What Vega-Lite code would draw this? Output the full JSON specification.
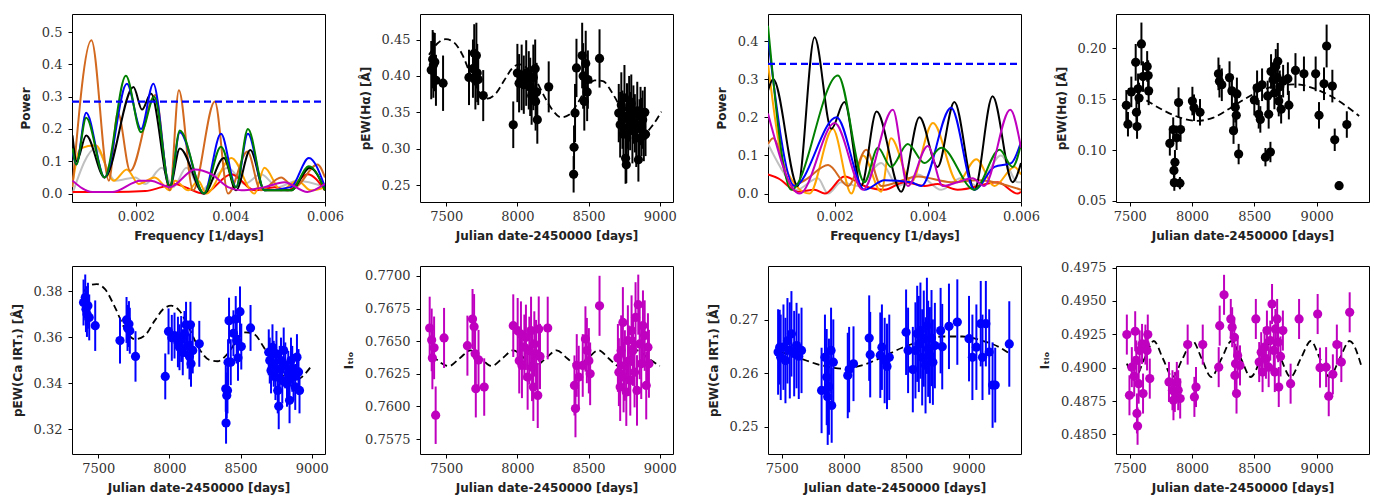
{
"$schema": "https://vega.github.io/schema/vega-lite/v6.json",
"background": "white",
"padding": {"left": 10, "top": 13, "right": 3, "bottom": 3},
"columns": 4,
"spacing": {"row": 64, "column": 95},
"bounds": "flush",
"resolve": {"scale": {"x": "independent", "y": "independent"}},
"config": {
  "view": {"stroke": "#000", "strokeWidth": 1},
  "axis": {"domain": false, "grid": false, "tickColor": "#000", "tickSize": 4, "tickWidth": 1, "labelFont": "DejaVu Serif", "labelFontSize": 13, "labelColor": "#333", "labelFlush": false, "labelOverlap": false, "labelBound": false, "titleFont": "DejaVu Sans", "titleFontSize": 12, "titleFontWeight": "bold", "titleColor": "#222"},
  "axisX": {"labelPadding": 4, "titlePadding": 7},
  "axisY": {"labelPadding": 6, "titlePadding": 9}
},
"datasets": {
"fap1": [{"f":0.00065,"v":0.285},{"f":0.006,"v":0.285}],
"fap3": [{"f":0.00057,"v":0.34},{"f":0.006,"v":0.34}],
"pg1": [
{"s":"silver","f":0.00066,"v":0.0},{"s":"silver","f":0.00115,"v":0.14},{"s":"silver","f":0.00157,"v":0.04},{"s":"silver","f":0.00199,"v":0.05},{"s":"silver","f":0.0022,"v":0.03},{"s":"silver","f":0.00255,"v":0.08},{"s":"silver","f":0.00279,"v":0.02},{"s":"silver","f":0.00307,"v":0.08},{"s":"silver","f":0.00339,"v":0.01},{"s":"silver","f":0.0036,"v":0.04},{"s":"silver","f":0.00395,"v":0.08},{"s":"silver","f":0.0043,"v":0.03},{"s":"silver","f":0.00465,"v":0.06},{"s":"silver","f":0.005,"v":0.02},{"s":"silver","f":0.00542,"v":0.04},{"s":"silver","f":0.006,"v":0.02},
{"s":"red","f":0.00066,"v":0.005},{"s":"red","f":0.0015,"v":0.005},{"s":"red","f":0.0022,"v":0.008},{"s":"red","f":0.00255,"v":0.02},{"s":"red","f":0.00283,"v":0.03},{"s":"red","f":0.00304,"v":0.02},{"s":"red","f":0.00344,"v":0.0},{"s":"red","f":0.00402,"v":0.06},{"s":"red","f":0.00451,"v":0.01},{"s":"red","f":0.00493,"v":0.02},{"s":"red","f":0.00521,"v":0.01},{"s":"red","f":0.00563,"v":0.06},{"s":"red","f":0.006,"v":0.01},
{"s":"orange","f":0.00066,"v":0.03},{"s":"orange","f":0.00083,"v":0.14},{"s":"orange","f":0.00115,"v":0.15},{"s":"orange","f":0.00153,"v":0.04},{"s":"orange","f":0.00181,"v":0.075},{"s":"orange","f":0.00206,"v":0.03},{"s":"orange","f":0.0024,"v":0.05},{"s":"orange","f":0.00272,"v":0.01},{"s":"orange","f":0.00283,"v":0.04},{"s":"orange","f":0.00311,"v":0.01},{"s":"orange","f":0.00332,"v":0.04},{"s":"orange","f":0.00349,"v":0.0},{"s":"orange","f":0.00402,"v":0.11},{"s":"orange","f":0.00451,"v":0.0},{"s":"orange","f":0.00472,"v":0.08},{"s":"orange","f":0.00507,"v":0.01},{"s":"orange","f":0.00542,"v":0.04},{"s":"orange","f":0.0057,"v":0.01},{"s":"orange","f":0.006,"v":0.02},
{"s":"chocolate","f":0.00066,"v":0.02},{"s":"chocolate","f":0.00106,"v":0.475},{"s":"chocolate","f":0.00143,"v":0.04},{"s":"chocolate","f":0.00162,"v":0.25},{"s":"chocolate","f":0.00188,"v":0.07},{"s":"chocolate","f":0.00241,"v":0.305},{"s":"chocolate","f":0.00272,"v":0.01},{"s":"chocolate","f":0.00291,"v":0.32},{"s":"chocolate","f":0.00321,"v":0.01},{"s":"chocolate","f":0.00367,"v":0.285},{"s":"chocolate","f":0.00395,"v":0.0},{"s":"chocolate","f":0.00436,"v":0.13},{"s":"chocolate","f":0.00464,"v":0.01},{"s":"chocolate","f":0.00507,"v":0.05},{"s":"chocolate","f":0.00535,"v":0.02},{"s":"chocolate","f":0.00584,"v":0.09},{"s":"chocolate","f":0.006,"v":0.05},
{"s":"black","f":0.00066,"v":0.18},{"s":"black","f":0.00075,"v":0.1},{"s":"black","f":0.00095,"v":0.18},{"s":"black","f":0.00134,"v":0.05},{"s":"black","f":0.00195,"v":0.33},{"s":"black","f":0.00213,"v":0.26},{"s":"black","f":0.00232,"v":0.31},{"s":"black","f":0.00272,"v":0.02},{"s":"black","f":0.00293,"v":0.14},{"s":"black","f":0.00344,"v":0.0},{"s":"black","f":0.00386,"v":0.11},{"s":"black","f":0.00412,"v":0.01},{"s":"black","f":0.00442,"v":0.135},{"s":"black","f":0.00472,"v":0.01},{"s":"black","f":0.00528,"v":0.01},{"s":"black","f":0.00568,"v":0.08},{"s":"black","f":0.006,"v":0.01},
{"s":"blue","f":0.00066,"v":0.13},{"s":"blue","f":0.00074,"v":0.09},{"s":"blue","f":0.00095,"v":0.25},{"s":"blue","f":0.00134,"v":0.05},{"s":"blue","f":0.00181,"v":0.34},{"s":"blue","f":0.00211,"v":0.2},{"s":"blue","f":0.00237,"v":0.34},{"s":"blue","f":0.00272,"v":0.02},{"s":"blue","f":0.00293,"v":0.19},{"s":"blue","f":0.00344,"v":0.0},{"s":"blue","f":0.0038,"v":0.185},{"s":"blue","f":0.00412,"v":0.02},{"s":"blue","f":0.00437,"v":0.185},{"s":"blue","f":0.00472,"v":0.01},{"s":"blue","f":0.00528,"v":0.02},{"s":"blue","f":0.00566,"v":0.11},{"s":"blue","f":0.006,"v":0.02},
{"s":"green","f":0.00066,"v":0.14},{"s":"green","f":0.00074,"v":0.09},{"s":"green","f":0.00095,"v":0.235},{"s":"green","f":0.00134,"v":0.05},{"s":"green","f":0.00179,"v":0.365},{"s":"green","f":0.00211,"v":0.19},{"s":"green","f":0.00239,"v":0.3},{"s":"green","f":0.00272,"v":0.02},{"s":"green","f":0.00293,"v":0.195},{"s":"green","f":0.00344,"v":0.0},{"s":"green","f":0.0038,"v":0.145},{"s":"green","f":0.00412,"v":0.02},{"s":"green","f":0.00437,"v":0.2},{"s":"green","f":0.00472,"v":0.01},{"s":"green","f":0.00528,"v":0.01},{"s":"green","f":0.00566,"v":0.085},{"s":"green","f":0.006,"v":0.01},
{"s":"magenta","f":0.00066,"v":0.04},{"s":"magenta","f":0.00108,"v":0.005},{"s":"magenta","f":0.0015,"v":0.005},{"s":"magenta","f":0.0021,"v":0.04},{"s":"magenta","f":0.00231,"v":0.04},{"s":"magenta","f":0.00272,"v":0.02},{"s":"magenta","f":0.00325,"v":0.075},{"s":"magenta","f":0.0036,"v":0.06},{"s":"magenta","f":0.00395,"v":0.02},{"s":"magenta","f":0.00423,"v":0.01},{"s":"magenta","f":0.00472,"v":0.02},{"s":"magenta","f":0.00514,"v":0.035},{"s":"magenta","f":0.00563,"v":0.005},{"s":"magenta","f":0.006,"v":0.03}
],
"pg3": [
{"s":"silver","f":0.00057,"v":0.13},{"s":"silver","f":0.00093,"v":0.05},{"s":"silver","f":0.00118,"v":0.01},{"s":"silver","f":0.00164,"v":0.04},{"s":"silver","f":0.00186,"v":0.0},{"s":"silver","f":0.00214,"v":0.03},{"s":"silver","f":0.0025,"v":0.02},{"s":"silver","f":0.003,"v":0.08},{"s":"silver","f":0.00336,"v":0.02},{"s":"silver","f":0.00379,"v":0.05},{"s":"silver","f":0.00429,"v":0.01},{"s":"silver","f":0.00471,"v":0.04},{"s":"silver","f":0.00507,"v":0.02},{"s":"silver","f":0.00557,"v":0.1},{"s":"silver","f":0.00593,"v":0.03},{"s":"silver","f":0.006,"v":0.03},
{"s":"red","f":0.00057,"v":0.05},{"s":"red","f":0.00079,"v":0.04},{"s":"red","f":0.00121,"v":0.005},{"s":"red","f":0.00157,"v":0.01},{"s":"red","f":0.00179,"v":0.0},{"s":"red","f":0.00221,"v":0.045},{"s":"red","f":0.00264,"v":0.02},{"s":"red","f":0.00307,"v":0.01},{"s":"red","f":0.0035,"v":0.03},{"s":"red","f":0.00393,"v":0.02},{"s":"red","f":0.00421,"v":0.025},{"s":"red","f":0.00464,"v":0.01},{"s":"red","f":0.0055,"v":0.03},{"s":"red","f":0.00593,"v":0.0},{"s":"red","f":0.006,"v":0.005},
{"s":"orange","f":0.00057,"v":0.34},{"s":"orange","f":0.00093,"v":0.07},{"s":"orange","f":0.00146,"v":0.0},{"s":"orange","f":0.00196,"v":0.17},{"s":"orange","f":0.00236,"v":0.0},{"s":"orange","f":0.00261,"v":0.1},{"s":"orange","f":0.003,"v":0.005},{"s":"orange","f":0.00321,"v":0.145},{"s":"orange","f":0.00364,"v":0.03},{"s":"orange","f":0.00411,"v":0.185},{"s":"orange","f":0.00464,"v":0.03},{"s":"orange","f":0.00504,"v":0.09},{"s":"orange","f":0.00543,"v":0.02},{"s":"orange","f":0.00586,"v":0.07},{"s":"orange","f":0.006,"v":0.05},
{"s":"chocolate","f":0.00057,"v":0.13},{"s":"chocolate","f":0.00068,"v":0.145},{"s":"chocolate","f":0.00107,"v":0.02},{"s":"chocolate","f":0.00136,"v":0.035},{"s":"chocolate","f":0.00186,"v":0.075},{"s":"chocolate","f":0.00229,"v":0.02},{"s":"chocolate","f":0.00268,"v":0.115},{"s":"chocolate","f":0.003,"v":0.02},{"s":"chocolate","f":0.00379,"v":0.045},{"s":"chocolate","f":0.0045,"v":0.03},{"s":"chocolate","f":0.00507,"v":0.035},{"s":"chocolate","f":0.006,"v":0.01},
{"s":"black","f":0.00057,"v":0.27},{"s":"black","f":0.00068,"v":0.3},{"s":"black","f":0.00121,"v":0.02},{"s":"black","f":0.00157,"v":0.41},{"s":"black","f":0.00193,"v":0.17},{"s":"black","f":0.00221,"v":0.24},{"s":"black","f":0.00257,"v":0.02},{"s":"black","f":0.0029,"v":0.215},{"s":"black","f":0.00343,"v":0.005},{"s":"black","f":0.00382,"v":0.2},{"s":"black","f":0.00421,"v":0.07},{"s":"black","f":0.00457,"v":0.24},{"s":"black","f":0.005,"v":0.01},{"s":"black","f":0.00539,"v":0.255},{"s":"black","f":0.00582,"v":0.03},{"s":"black","f":0.006,"v":0.08},
{"s":"blue","f":0.00057,"v":0.41},{"s":"blue","f":0.00114,"v":0.02},{"s":"blue","f":0.00204,"v":0.2},{"s":"blue","f":0.00264,"v":0.01},{"s":"blue","f":0.00307,"v":0.035},{"s":"blue","f":0.00364,"v":0.03},{"s":"blue","f":0.00386,"v":0.02},{"s":"blue","f":0.0045,"v":0.225},{"s":"blue","f":0.005,"v":0.01},{"s":"blue","f":0.00543,"v":0.07},{"s":"blue","f":0.00579,"v":0.08},{"s":"blue","f":0.006,"v":0.135},
{"s":"green","f":0.00057,"v":0.44},{"s":"green","f":0.00107,"v":0.01},{"s":"green","f":0.00207,"v":0.31},{"s":"green","f":0.00264,"v":0.03},{"s":"green","f":0.00293,"v":0.12},{"s":"green","f":0.00321,"v":0.07},{"s":"green","f":0.00357,"v":0.13},{"s":"green","f":0.00393,"v":0.08},{"s":"green","f":0.00429,"v":0.12},{"s":"green","f":0.005,"v":0.01},{"s":"green","f":0.00554,"v":0.115},{"s":"green","f":0.00582,"v":0.07},{"s":"green","f":0.006,"v":0.13},
{"s":"magenta","f":0.00057,"v":0.21},{"s":"magenta","f":0.00125,"v":0.0},{"s":"magenta","f":0.002,"v":0.185},{"s":"magenta","f":0.00261,"v":0.01},{"s":"magenta","f":0.00325,"v":0.22},{"s":"magenta","f":0.00357,"v":0.02},{"s":"magenta","f":0.004,"v":0.125},{"s":"magenta","f":0.00432,"v":0.02},{"s":"magenta","f":0.00464,"v":0.03},{"s":"magenta","f":0.00496,"v":0.04},{"s":"magenta","f":0.00521,"v":0.02},{"s":"magenta","f":0.00577,"v":0.22},{"s":"magenta","f":0.006,"v":0.12}
],
"obs2": [
{"t":7395,"y":0.408,"e":0.04},{"t":7405,"y":0.423,"e":0.04},{"t":7410,"y":0.415,"e":0.045},{"t":7420,"y":0.419,"e":0.04},{"t":7428,"y":0.394,"e":0.035},{"t":7478,"y":0.39,"e":0.038},{"t":7660,"y":0.398,"e":0.038},{"t":7688,"y":0.41,"e":0.04},{"t":7697,"y":0.431,"e":0.04},{"t":7705,"y":0.394,"e":0.04},{"t":7712,"y":0.428,"e":0.045},{"t":7718,"y":0.404,"e":0.04},{"t":7725,"y":0.395,"e":0.035},{"t":7760,"y":0.373,"e":0.035},{"t":7971,"y":0.333,"e":0.032},{"t":8000,"y":0.404,"e":0.04},{"t":8012,"y":0.39,"e":0.04},{"t":8030,"y":0.398,"e":0.045},{"t":8045,"y":0.388,"e":0.04},{"t":8062,"y":0.404,"e":0.045},{"t":8080,"y":0.394,"e":0.04},{"t":8090,"y":0.385,"e":0.04},{"t":8100,"y":0.373,"e":0.04},{"t":8112,"y":0.398,"e":0.045},{"t":8125,"y":0.41,"e":0.04},{"t":8128,"y":0.365,"e":0.04},{"t":8135,"y":0.378,"e":0.04},{"t":8140,"y":0.34,"e":0.033},{"t":8220,"y":0.385,"e":0.035},{"t":8395,"y":0.265,"e":0.025},{"t":8398,"y":0.302,"e":0.03},{"t":8405,"y":0.349,"e":0.04},{"t":8415,"y":0.411,"e":0.04},{"t":8455,"y":0.428,"e":0.045},{"t":8462,"y":0.4,"e":0.045},{"t":8470,"y":0.365,"e":0.04},{"t":8480,"y":0.417,"e":0.045},{"t":8490,"y":0.378,"e":0.04},{"t":8495,"y":0.395,"e":0.04},{"t":8577,"y":0.424,"e":0.04},{"t":8712,"y":0.349,"e":0.04},{"t":8722,"y":0.333,"e":0.045},{"t":8730,"y":0.36,"e":0.045},{"t":8738,"y":0.34,"e":0.04},{"t":8745,"y":0.32,"e":0.04},{"t":8752,"y":0.37,"e":0.045},{"t":8760,"y":0.287,"e":0.035},{"t":8765,"y":0.278,"e":0.025},{"t":8770,"y":0.345,"e":0.045},{"t":8778,"y":0.33,"e":0.04},{"t":8785,"y":0.355,"e":0.045},{"t":8792,"y":0.338,"e":0.04},{"t":8800,"y":0.362,"e":0.04},{"t":8808,"y":0.325,"e":0.045},{"t":8815,"y":0.347,"e":0.04},{"t":8825,"y":0.335,"e":0.04},{"t":8835,"y":0.315,"e":0.04},{"t":8842,"y":0.352,"e":0.04},{"t":8850,"y":0.285,"e":0.03},{"t":8858,"y":0.328,"e":0.04},{"t":8865,"y":0.345,"e":0.04},{"t":8872,"y":0.33,"e":0.04},{"t":8880,"y":0.34,"e":0.04},{"t":8888,"y":0.318,"e":0.035},{"t":8895,"y":0.35,"e":0.035},{"t":8900,"y":0.32,"e":0.03}
],
"fit2": [
{"t":7379,"y":0.429},{"t":7438,"y":0.4445},{"t":7497,"y":0.4505},{"t":7555,"y":0.446},{"t":7614,"y":0.429},{"t":7673,"y":0.401},{"t":7732,"y":0.378},{"t":7790,"y":0.369},{"t":7849,"y":0.376},{"t":7908,"y":0.394},{"t":7966,"y":0.411},{"t":8013,"y":0.416},{"t":8072,"y":0.41},{"t":8131,"y":0.394},{"t":8189,"y":0.372},{"t":8248,"y":0.353},{"t":8307,"y":0.343},{"t":8366,"y":0.347},{"t":8424,"y":0.363},{"t":8483,"y":0.382},{"t":8542,"y":0.394},{"t":8601,"y":0.393},{"t":8659,"y":0.379},{"t":8720,"y":0.358},{"t":8776,"y":0.337},{"t":8835,"y":0.324},{"t":8894,"y":0.322},{"t":8953,"y":0.333},{"t":9011,"y":0.351}
],
"obs4": [
{"t":7473,"y":0.1438,"e":0.015},{"t":7486,"y":0.1253,"e":0.012},{"t":7513,"y":0.157,"e":0.015},{"t":7548,"y":0.186,"e":0.018},{"t":7554,"y":0.137,"e":0.015},{"t":7559,"y":0.123,"e":0.012},{"t":7567,"y":0.16,"e":0.015},{"t":7575,"y":0.151,"e":0.015},{"t":7594,"y":0.204,"e":0.021},{"t":7607,"y":0.172,"e":0.015},{"t":7640,"y":0.182,"e":0.015},{"t":7648,"y":0.173,"e":0.015},{"t":7652,"y":0.158,"e":0.014},{"t":7822,"y":0.1065,"e":0.012},{"t":7849,"y":0.12,"e":0.012},{"t":7855,"y":0.08,"e":0.012},{"t":7863,"y":0.088,"e":0.012},{"t":7858,"y":0.068,"e":0.008},{"t":7876,"y":0.112,"e":0.012},{"t":7892,"y":0.1465,"e":0.015},{"t":7903,"y":0.0675,"e":0.006},{"t":7908,"y":0.12,"e":0.012},{"t":8003,"y":0.148,"e":0.014},{"t":8016,"y":0.1415,"e":0.013},{"t":8064,"y":0.137,"e":0.013},{"t":8212,"y":0.1747,"e":0.016},{"t":8220,"y":0.1675,"e":0.016},{"t":8239,"y":0.164,"e":0.016},{"t":8301,"y":0.171,"e":0.016},{"t":8320,"y":0.158,"e":0.016},{"t":8333,"y":0.119,"e":0.013},{"t":8347,"y":0.142,"e":0.015},{"t":8355,"y":0.134,"e":0.015},{"t":8360,"y":0.155,"e":0.016},{"t":8374,"y":0.096,"e":0.01},{"t":8500,"y":0.149,"e":0.015},{"t":8522,"y":0.161,"e":0.017},{"t":8535,"y":0.135,"e":0.014},{"t":8548,"y":0.13,"e":0.013},{"t":8562,"y":0.164,"e":0.016},{"t":8589,"y":0.093,"e":0.009},{"t":8607,"y":0.153,"e":0.015},{"t":8615,"y":0.135,"e":0.014},{"t":8629,"y":0.098,"e":0.01},{"t":8634,"y":0.177,"e":0.017},{"t":8650,"y":0.169,"e":0.017},{"t":8661,"y":0.156,"e":0.016},{"t":8672,"y":0.182,"e":0.017},{"t":8683,"y":0.171,"e":0.017},{"t":8688,"y":0.187,"e":0.018},{"t":8696,"y":0.148,"e":0.015},{"t":8704,"y":0.162,"e":0.016},{"t":8715,"y":0.14,"e":0.014},{"t":8731,"y":0.1675,"e":0.016},{"t":8769,"y":0.17,"e":0.016},{"t":8777,"y":0.144,"e":0.014},{"t":8830,"y":0.178,"e":0.017},{"t":8898,"y":0.1747,"e":0.017},{"t":8992,"y":0.1747,"e":0.017},{"t":9019,"y":0.134,"e":0.013},{"t":9059,"y":0.165,"e":0.016},{"t":9080,"y":0.202,"e":0.021},{"t":9126,"y":0.1627,"e":0.016},{"t":9145,"y":0.11,"e":0.011},{"t":9180,"y":0.065,"e":0.004},{"t":9242,"y":0.125,"e":0.013}
],
"fit4": [
{"t":7486,"y":0.1604},{"t":7634,"y":0.1487},{"t":7769,"y":0.139},{"t":7903,"y":0.1318},{"t":8037,"y":0.1286},{"t":8172,"y":0.1318},{"t":8306,"y":0.141},{"t":8441,"y":0.1513},{"t":8575,"y":0.1594},{"t":8709,"y":0.1636},{"t":8844,"y":0.1643},{"t":8978,"y":0.1604},{"t":9113,"y":0.1529},{"t":9247,"y":0.1422},{"t":9341,"y":0.1334}
],
"obs5": [
{"t":7397,"y":0.3752,"e":0.01},{"t":7409,"y":0.3774,"e":0.01},{"t":7414,"y":0.3723,"e":0.01},{"t":7421,"y":0.3702,"e":0.01},{"t":7428,"y":0.3738,"e":0.01},{"t":7437,"y":0.3687,"e":0.01},{"t":7479,"y":0.3651,"e":0.011},{"t":7653,"y":0.3586,"e":0.01},{"t":7699,"y":0.3676,"e":0.01},{"t":7706,"y":0.3641,"e":0.01},{"t":7716,"y":0.3658,"e":0.01},{"t":7722,"y":0.3629,"e":0.01},{"t":7762,"y":0.3517,"e":0.011},{"t":7971,"y":0.343,"e":0.01},{"t":7994,"y":0.3626,"e":0.01},{"t":8017,"y":0.3598,"e":0.01},{"t":8036,"y":0.3608,"e":0.01},{"t":8060,"y":0.358,"e":0.011},{"t":8071,"y":0.3557,"e":0.01},{"t":8083,"y":0.3593,"e":0.01},{"t":8094,"y":0.3535,"e":0.01},{"t":8106,"y":0.3615,"e":0.01},{"t":8117,"y":0.3655,"e":0.01},{"t":8129,"y":0.3564,"e":0.01},{"t":8141,"y":0.3517,"e":0.01},{"t":8148,"y":0.3655,"e":0.01},{"t":8152,"y":0.3485,"e":0.01},{"t":8164,"y":0.3543,"e":0.01},{"t":8210,"y":0.3572,"e":0.01},{"t":8396,"y":0.3376,"e":0.01},{"t":8403,"y":0.3347,"e":0.01},{"t":8398,"y":0.3227,"e":0.009},{"t":8408,"y":0.3369,"e":0.01},{"t":8412,"y":0.3492,"e":0.01},{"t":8419,"y":0.3673,"e":0.01},{"t":8431,"y":0.3492,"e":0.01},{"t":8450,"y":0.3618,"e":0.01},{"t":8466,"y":0.368,"e":0.01},{"t":8473,"y":0.3586,"e":0.01},{"t":8482,"y":0.3511,"e":0.01},{"t":8496,"y":0.3712,"e":0.011},{"t":8505,"y":0.356,"e":0.01},{"t":8570,"y":0.3641,"e":0.01},{"t":8698,"y":0.3535,"e":0.01},{"t":8705,"y":0.3499,"e":0.01},{"t":8714,"y":0.3456,"e":0.01},{"t":8724,"y":0.3557,"e":0.01},{"t":8733,"y":0.3485,"e":0.01},{"t":8745,"y":0.3427,"e":0.01},{"t":8752,"y":0.3528,"e":0.01},{"t":8761,"y":0.3369,"e":0.01},{"t":8768,"y":0.33,"e":0.01},{"t":8775,"y":0.3463,"e":0.01},{"t":8784,"y":0.3499,"e":0.01},{"t":8793,"y":0.3412,"e":0.01},{"t":8803,"y":0.3543,"e":0.01},{"t":8814,"y":0.3478,"e":0.01},{"t":8826,"y":0.3398,"e":0.01},{"t":8835,"y":0.3441,"e":0.01},{"t":8844,"y":0.3326,"e":0.01},{"t":8854,"y":0.3499,"e":0.01},{"t":8863,"y":0.3463,"e":0.01},{"t":8872,"y":0.3427,"e":0.01},{"t":8884,"y":0.3384,"e":0.01},{"t":8896,"y":0.3514,"e":0.01},{"t":8907,"y":0.3449,"e":0.01},{"t":8914,"y":0.3369,"e":0.01}
],
"fit5": [
{"t":7397,"y":0.38},{"t":7444,"y":0.3827},{"t":7490,"y":0.3832},{"t":7548,"y":0.381},{"t":7618,"y":0.3731},{"t":7688,"y":0.3637},{"t":7757,"y":0.3592},{"t":7827,"y":0.3608},{"t":7897,"y":0.3673},{"t":7966,"y":0.3728},{"t":8013,"y":0.3738},{"t":8071,"y":0.3716},{"t":8141,"y":0.3637},{"t":8210,"y":0.355},{"t":8280,"y":0.3502},{"t":8338,"y":0.3496},{"t":8408,"y":0.3528},{"t":8477,"y":0.3589},{"t":8536,"y":0.3622},{"t":8594,"y":0.3615},{"t":8663,"y":0.3557},{"t":8733,"y":0.3485},{"t":8803,"y":0.343},{"t":8872,"y":0.341},{"t":8930,"y":0.3427},{"t":9000,"y":0.3478}
],
"obs6": [
{"t":7384,"y":0.76601,"e":0.0024},{"t":7398,"y":0.7651,"e":0.0024},{"t":7403,"y":0.76372,"e":0.0024},{"t":7415,"y":0.76449,"e":0.0024},{"t":7426,"y":0.75933,"e":0.0022},{"t":7485,"y":0.76525,"e":0.0023},{"t":7649,"y":0.76466,"e":0.0023},{"t":7685,"y":0.7667,"e":0.0023},{"t":7696,"y":0.76611,"e":0.0025},{"t":7703,"y":0.76403,"e":0.0025},{"t":7708,"y":0.76136,"e":0.0022},{"t":7727,"y":0.76357,"e":0.0023},{"t":7767,"y":0.76149,"e":0.0022},{"t":7971,"y":0.76619,"e":0.0024},{"t":8002,"y":0.76581,"e":0.0025},{"t":8013,"y":0.7635,"e":0.0025},{"t":8025,"y":0.76555,"e":0.0025},{"t":8032,"y":0.76314,"e":0.0025},{"t":8049,"y":0.76454,"e":0.0025},{"t":8060,"y":0.7653,"e":0.0025},{"t":8072,"y":0.76225,"e":0.0025},{"t":8084,"y":0.76428,"e":0.0026},{"t":8096,"y":0.76581,"e":0.0026},{"t":8103,"y":0.76301,"e":0.0026},{"t":8112,"y":0.76149,"e":0.0026},{"t":8119,"y":0.76479,"e":0.0025},{"t":8131,"y":0.76403,"e":0.0026},{"t":8143,"y":0.76085,"e":0.0025},{"t":8150,"y":0.76593,"e":0.0025},{"t":8159,"y":0.76383,"e":0.0025},{"t":8213,"y":0.76601,"e":0.0024},{"t":8401,"y":0.76161,"e":0.0023},{"t":8408,"y":0.75984,"e":0.0022},{"t":8417,"y":0.76314,"e":0.0024},{"t":8431,"y":0.76225,"e":0.0024},{"t":8459,"y":0.76314,"e":0.0024},{"t":8478,"y":0.76517,"e":0.0025},{"t":8488,"y":0.76428,"e":0.0025},{"t":8502,"y":0.7635,"e":0.0025},{"t":8511,"y":0.7625,"e":0.0024},{"t":8577,"y":0.76771,"e":0.0023},{"t":8706,"y":0.76372,"e":0.0026},{"t":8713,"y":0.76263,"e":0.0026},{"t":8722,"y":0.76149,"e":0.0026},{"t":8729,"y":0.76428,"e":0.0027},{"t":8741,"y":0.76644,"e":0.0027},{"t":8746,"y":0.76225,"e":0.0027},{"t":8755,"y":0.76314,"e":0.0027},{"t":8765,"y":0.76111,"e":0.0026},{"t":8776,"y":0.76505,"e":0.0027},{"t":8783,"y":0.7635,"e":0.0027},{"t":8793,"y":0.762,"e":0.0027},{"t":8802,"y":0.76581,"e":0.0027},{"t":8812,"y":0.76428,"e":0.0027},{"t":8823,"y":0.76263,"e":0.0027},{"t":8830,"y":0.76682,"e":0.0027},{"t":8840,"y":0.76123,"e":0.0027},{"t":8849,"y":0.7678,"e":0.0023},{"t":8859,"y":0.76479,"e":0.0027},{"t":8870,"y":0.76327,"e":0.0027},{"t":8882,"y":0.76619,"e":0.0027},{"t":8894,"y":0.76543,"e":0.0027},{"t":8905,"y":0.76161,"e":0.0026},{"t":8917,"y":0.76454,"e":0.0026},{"t":8924,"y":0.76327,"e":0.0026}
],
"fit6": [
{"t":7403,"y":0.7639},{"t":7520,"y":0.7631},{"t":7595,"y":0.7637},{"t":7673,"y":0.7643},{"t":7743,"y":0.7637},{"t":7818,"y":0.7631},{"t":7896,"y":0.7637},{"t":7971,"y":0.7643},{"t":8049,"y":0.7637},{"t":8124,"y":0.7631},{"t":8201,"y":0.7637},{"t":8276,"y":0.7643},{"t":8349,"y":0.7637},{"t":8424,"y":0.7631},{"t":8495,"y":0.7637},{"t":8570,"y":0.7643},{"t":8640,"y":0.7637},{"t":8711,"y":0.7631},{"t":8776,"y":0.7637},{"t":8842,"y":0.7643},{"t":8917,"y":0.7637},{"t":9000,"y":0.7631}
],
"obs7": [
{"t":7471,"y":0.264,"e":0.008},{"t":7484,"y":0.2649,"e":0.007},{"t":7492,"y":0.263,"e":0.008},{"t":7514,"y":0.2649,"e":0.008},{"t":7530,"y":0.2624,"e":0.008},{"t":7546,"y":0.2661,"e":0.008},{"t":7565,"y":0.2643,"e":0.009},{"t":7578,"y":0.2674,"e":0.008},{"t":7600,"y":0.2637,"e":0.008},{"t":7619,"y":0.2652,"e":0.008},{"t":7637,"y":0.2632,"e":0.008},{"t":7659,"y":0.2643,"e":0.008},{"t":7820,"y":0.2568,"e":0.008},{"t":7847,"y":0.263,"e":0.008},{"t":7861,"y":0.2593,"e":0.009},{"t":7869,"y":0.2556,"e":0.009},{"t":7879,"y":0.2575,"e":0.009},{"t":7896,"y":0.2643,"e":0.008},{"t":7901,"y":0.254,"e":0.007},{"t":7914,"y":0.2621,"e":0.008},{"t":8030,"y":0.2596,"e":0.008},{"t":8041,"y":0.2607,"e":0.008},{"t":8076,"y":0.2618,"e":0.007},{"t":8202,"y":0.2666,"e":0.008},{"t":8210,"y":0.2635,"e":0.008},{"t":8291,"y":0.2634,"e":0.008},{"t":8304,"y":0.2649,"e":0.008},{"t":8326,"y":0.2624,"e":0.008},{"t":8345,"y":0.2613,"e":0.008},{"t":8363,"y":0.263,"e":0.008},{"t":8498,"y":0.2677,"e":0.008},{"t":8514,"y":0.2643,"e":0.008},{"t":8552,"y":0.2607,"e":0.008},{"t":8573,"y":0.2643,"e":0.009},{"t":8587,"y":0.2674,"e":0.009},{"t":8600,"y":0.2655,"e":0.009},{"t":8613,"y":0.268,"e":0.009},{"t":8627,"y":0.263,"e":0.009},{"t":8640,"y":0.2665,"e":0.009},{"t":8654,"y":0.2615,"e":0.009},{"t":8665,"y":0.2689,"e":0.009},{"t":8675,"y":0.2646,"e":0.009},{"t":8689,"y":0.2634,"e":0.009},{"t":8702,"y":0.2666,"e":0.009},{"t":8713,"y":0.2621,"e":0.008},{"t":8729,"y":0.2652,"e":0.008},{"t":8775,"y":0.268,"e":0.008},{"t":8788,"y":0.265,"e":0.008},{"t":8842,"y":0.2688,"e":0.008},{"t":8909,"y":0.2696,"e":0.008},{"t":9003,"y":0.2665,"e":0.008},{"t":9030,"y":0.263,"e":0.008},{"t":9062,"y":0.2649,"e":0.008},{"t":9097,"y":0.2693,"e":0.008},{"t":9111,"y":0.263,"e":0.008},{"t":9138,"y":0.2693,"e":0.008},{"t":9165,"y":0.264,"e":0.008},{"t":9192,"y":0.2578,"e":0.008},{"t":9213,"y":0.2578,"e":0.007},{"t":9326,"y":0.2655,"e":0.008}
],
"fit7": [
{"t":7498,"y":0.264},{"t":7659,"y":0.2627},{"t":7820,"y":0.2615},{"t":7982,"y":0.2609},{"t":8143,"y":0.2615},{"t":8304,"y":0.263},{"t":8466,"y":0.2648},{"t":8627,"y":0.2661},{"t":8788,"y":0.2669},{"t":8950,"y":0.2669},{"t":9111,"y":0.2661},{"t":9246,"y":0.2649},{"t":9340,"y":0.2635}
],
"obs8": [
{"t":7477,"y":0.49248,"e":0.0015},{"t":7498,"y":0.48793,"e":0.0015},{"t":7517,"y":0.49004,"e":0.0015},{"t":7536,"y":0.48935,"e":0.0015},{"t":7544,"y":0.49273,"e":0.0015},{"t":7553,"y":0.49054,"e":0.0015},{"t":7558,"y":0.48657,"e":0.0015},{"t":7563,"y":0.48562,"e":0.0014},{"t":7572,"y":0.4888,"e":0.0015},{"t":7580,"y":0.49129,"e":0.0015},{"t":7599,"y":0.49178,"e":0.0015},{"t":7607,"y":0.48806,"e":0.0015},{"t":7626,"y":0.49173,"e":0.0015},{"t":7639,"y":0.49129,"e":0.0015},{"t":7645,"y":0.49248,"e":0.0015},{"t":7661,"y":0.48918,"e":0.0015},{"t":7815,"y":0.48893,"e":0.0015},{"t":7843,"y":0.48831,"e":0.0015},{"t":7851,"y":0.48756,"e":0.0015},{"t":7862,"y":0.48818,"e":0.0015},{"t":7878,"y":0.48893,"e":0.0015},{"t":7889,"y":0.48831,"e":0.0015},{"t":7905,"y":0.48769,"e":0.0015},{"t":7965,"y":0.49173,"e":0.0015},{"t":8019,"y":0.48781,"e":0.0015},{"t":8032,"y":0.48855,"e":0.0015},{"t":8086,"y":0.49173,"e":0.0015},{"t":8214,"y":0.49004,"e":0.0015},{"t":8222,"y":0.49315,"e":0.0015},{"t":8257,"y":0.49546,"e":0.0015},{"t":8311,"y":0.49365,"e":0.0015},{"t":8322,"y":0.49303,"e":0.0015},{"t":8339,"y":0.49228,"e":0.0015},{"t":8344,"y":0.48942,"e":0.0015},{"t":8349,"y":0.49029,"e":0.0015},{"t":8357,"y":0.48806,"e":0.0015},{"t":8366,"y":0.49091,"e":0.0015},{"t":8385,"y":0.49017,"e":0.0015},{"t":8512,"y":0.49365,"e":0.0015},{"t":8539,"y":0.49042,"e":0.0015},{"t":8555,"y":0.49116,"e":0.0015},{"t":8566,"y":0.48967,"e":0.0015},{"t":8582,"y":0.49154,"e":0.0015},{"t":8593,"y":0.49067,"e":0.0015},{"t":8601,"y":0.49278,"e":0.0015},{"t":8615,"y":0.49004,"e":0.0015},{"t":8628,"y":0.49203,"e":0.0015},{"t":8642,"y":0.49477,"e":0.0015},{"t":8656,"y":0.49129,"e":0.0015},{"t":8664,"y":0.48967,"e":0.0015},{"t":8669,"y":0.4929,"e":0.0015},{"t":8683,"y":0.49365,"e":0.0015},{"t":8691,"y":0.49191,"e":0.0015},{"t":8696,"y":0.48855,"e":0.0015},{"t":8710,"y":0.49084,"e":0.0015},{"t":8729,"y":0.49278,"e":0.0015},{"t":8791,"y":0.4888,"e":0.0015},{"t":8859,"y":0.49365,"e":0.0015},{"t":9008,"y":0.49402,"e":0.0015},{"t":9027,"y":0.49,"e":0.0015},{"t":9076,"y":0.49004,"e":0.0015},{"t":9097,"y":0.48786,"e":0.0015},{"t":9130,"y":0.4895,"e":0.0015},{"t":9162,"y":0.49173,"e":0.0015},{"t":9198,"y":0.49042,"e":0.0015},{"t":9265,"y":0.49415,"e":0.0015}
],
"fit8": [
{"t":7477,"y":0.4903},{"t":7544,"y":0.4893},{"t":7618,"y":0.49067},{"t":7694,"y":0.4920},{"t":7767,"y":0.49067},{"t":7843,"y":0.4893},{"t":7924,"y":0.49067},{"t":8005,"y":0.4920},{"t":8078,"y":0.49067},{"t":8154,"y":0.4893},{"t":8236,"y":0.49067},{"t":8317,"y":0.4920},{"t":8393,"y":0.49067},{"t":8471,"y":0.4893},{"t":8555,"y":0.49067},{"t":8637,"y":0.4920},{"t":8712,"y":0.49067},{"t":8791,"y":0.4893},{"t":8872,"y":0.49067},{"t":8954,"y":0.4920},{"t":9027,"y":0.49067},{"t":9103,"y":0.4893},{"t":9184,"y":0.49067},{"t":9265,"y":0.4920},{"t":9360,"y":0.4901}
]
},
"concat": [
{
"width": 253, "height": 188,
"encoding": {
  "x": {"field": "f", "type": "quantitative", "scale": {"domain": [0.00065, 0.006], "nice": false, "zero": false}, "axis": {"values": [0.002, 0.004, 0.006], "format": ".3f", "title": "Frequency [1/days]", "labelOverlap": false}},
  "y": {"field": "v", "type": "quantitative", "scale": {"domain": [-0.026, 0.556], "nice": false, "zero": false}, "axis": {"values": [0, 0.1, 0.2, 0.3, 0.4, 0.5], "format": ".1f", "title": "Power", "labelOverlap": false}}
},
"layer": [
{"data": {"name": "pg1"}, "mark": {"type": "line", "strokeWidth": 2, "interpolate": "monotone", "clip": true},
 "encoding": {
  "color": {"field": "s", "type": "nominal", "scale": {"domain": ["silver","red","orange","chocolate","black","blue","green","magenta"], "range": ["#c0c0c0","#ff0000","#ffa500","#d2691e","#000000","#0000ff","#008000","#bf00bf"]}, "legend": null}
 }},
{"data": {"name": "fap1"}, "mark": {"type": "line", "color": "#0000ff", "strokeWidth": 2.2, "strokeDash": [7, 4], "clip": true}}
]
},
{
"width": 253, "height": 188,
"encoding": {
 "x": {"field": "t", "type": "quantitative", "scale": {"domain": [7316, 9093], "nice": false, "zero": false}, "axis": {"values": [7500, 8000, 8500, 9000], "format": "d", "title": "Julian date-2450000 [days]", "labelOverlap": false}},
 "y": {"field": "y", "type": "quantitative", "scale": {"domain": [0.227, 0.485], "nice": false, "zero": false}, "axis": {"values": [0.25, 0.3, 0.35, 0.4, 0.45], "format": ".2f", "title": "pEW(Hα) [Å]", "labelOverlap": false}}
},
"layer": [
{"data": {"name": "fit2"}, "mark": {"type": "line", "color": "#000", "strokeWidth": 1.8, "strokeDash": [7, 4], "interpolate": "monotone", "clip": true}},
{"data": {"name": "obs2"}, "mark": {"type": "errorbar", "color": "#000", "thickness": 2}, "encoding": {"yError": {"field": "e"}}},
{"data": {"name": "obs2"}, "mark": {"type": "circle", "color": "#000", "size": 85, "opacity": 1, "clip": true}}
]
},
{
"width": 253, "height": 188,
"encoding": {
  "x": {"field": "f", "type": "quantitative", "scale": {"domain": [0.00057, 0.006], "nice": false, "zero": false}, "axis": {"values": [0.002, 0.004, 0.006], "format": ".3f", "title": "Frequency [1/days]", "labelOverlap": false}},
  "y": {"field": "v", "type": "quantitative", "scale": {"domain": [-0.022, 0.471], "nice": false, "zero": false}, "axis": {"values": [0, 0.1, 0.2, 0.3, 0.4], "format": ".1f", "title": "Power", "labelOverlap": false}}
},
"layer": [
{"data": {"name": "pg3"}, "mark": {"type": "line", "strokeWidth": 2, "interpolate": "monotone", "clip": true},
 "encoding": {
  "color": {"field": "s", "type": "nominal", "scale": {"domain": ["silver","red","orange","chocolate","black","blue","green","magenta"], "range": ["#c0c0c0","#ff0000","#ffa500","#d2691e","#000000","#0000ff","#008000","#bf00bf"]}, "legend": null}
 }},
{"data": {"name": "fap3"}, "mark": {"type": "line", "color": "#0000ff", "strokeWidth": 2.2, "strokeDash": [7, 4], "clip": true}}
]
},
{
"width": 253, "height": 188,
"encoding": {
 "x": {"field": "t", "type": "quantitative", "scale": {"domain": [7390, 9420], "nice": false, "zero": false}, "axis": {"values": [7500, 8000, 8500, 9000], "format": "d", "title": "Julian date-2450000 [days]", "labelOverlap": false}},
 "y": {"field": "y", "type": "quantitative", "scale": {"domain": [0.049, 0.2334], "nice": false, "zero": false}, "axis": {"values": [0.05, 0.1, 0.15, 0.2], "format": ".2f", "title": "pEW(Hα) [Å]", "labelOverlap": false}}
},
"layer": [
{"data": {"name": "fit4"}, "mark": {"type": "line", "color": "#000", "strokeWidth": 1.8, "strokeDash": [7, 4], "interpolate": "monotone", "clip": true}},
{"data": {"name": "obs4"}, "mark": {"type": "errorbar", "color": "#000", "thickness": 2}, "encoding": {"yError": {"field": "e"}}},
{"data": {"name": "obs4"}, "mark": {"type": "circle", "color": "#000", "size": 85, "opacity": 1, "clip": true}}
]
},
{
"width": 253, "height": 188,
"encoding": {
 "x": {"field": "t", "type": "quantitative", "scale": {"domain": [7316, 9093], "nice": false, "zero": false}, "axis": {"values": [7500, 8000, 8500, 9000], "format": "d", "title": "Julian date-2450000 [days]", "labelOverlap": false}},
 "y": {"field": "y", "type": "quantitative", "scale": {"domain": [0.3092, 0.3911], "nice": false, "zero": false}, "axis": {"values": [0.32, 0.34, 0.36, 0.38], "format": ".2f", "title": "pEW(Ca IRT₁) [Å]", "labelOverlap": false}}
},
"layer": [
{"data": {"name": "fit5"}, "mark": {"type": "line", "color": "#000", "strokeWidth": 1.8, "strokeDash": [7, 4], "interpolate": "monotone", "clip": true}},
{"data": {"name": "obs5"}, "mark": {"type": "errorbar", "color": "#0000ff", "thickness": 2}, "encoding": {"yError": {"field": "e"}}},
{"data": {"name": "obs5"}, "mark": {"type": "circle", "color": "#0000ff", "size": 85, "opacity": 1, "clip": true}}
]
},
{
"width": 253, "height": 188,
"encoding": {
 "x": {"field": "t", "type": "quantitative", "scale": {"domain": [7316, 9093], "nice": false, "zero": false}, "axis": {"values": [7500, 8000, 8500, 9000], "format": "d", "title": "Julian date-2450000 [days]", "labelOverlap": false}},
 "y": {"field": "y", "type": "quantitative", "scale": {"domain": [0.75636, 0.77076], "nice": false, "zero": false}, "axis": {"values": [0.7575, 0.76, 0.7625, 0.765, 0.7675, 0.77], "format": ".4f", "title": "Iₜᵢₒ", "labelOverlap": false}}
},
"layer": [
{"data": {"name": "fit6"}, "mark": {"type": "line", "color": "#000", "strokeWidth": 1.8, "strokeDash": [7, 4], "interpolate": "monotone", "clip": true}},
{"data": {"name": "obs6"}, "mark": {"type": "errorbar", "color": "#bf00bf", "thickness": 2}, "encoding": {"yError": {"field": "e"}}},
{"data": {"name": "obs6"}, "mark": {"type": "circle", "color": "#bf00bf", "size": 85, "opacity": 1, "clip": true}}
]
},
{
"width": 253, "height": 188,
"encoding": {
 "x": {"field": "t", "type": "quantitative", "scale": {"domain": [7390, 9420], "nice": false, "zero": false}, "axis": {"values": [7500, 8000, 8500, 9000], "format": "d", "title": "Julian date-2450000 [days]", "labelOverlap": false}},
 "y": {"field": "y", "type": "quantitative", "scale": {"domain": [0.2449, 0.2801], "nice": false, "zero": false}, "axis": {"values": [0.25, 0.26, 0.27], "format": ".2f", "title": "pEW(Ca IRT₁) [Å]", "labelOverlap": false}}
},
"layer": [
{"data": {"name": "fit7"}, "mark": {"type": "line", "color": "#000", "strokeWidth": 1.8, "strokeDash": [7, 4], "interpolate": "monotone", "clip": true}},
{"data": {"name": "obs7"}, "mark": {"type": "errorbar", "color": "#0000ff", "thickness": 2}, "encoding": {"yError": {"field": "e"}}},
{"data": {"name": "obs7"}, "mark": {"type": "circle", "color": "#0000ff", "size": 85, "opacity": 1, "clip": true}}
]
},
{
"width": 253, "height": 188,
"encoding": {
 "x": {"field": "t", "type": "quantitative", "scale": {"domain": [7390, 9420], "nice": false, "zero": false}, "axis": {"values": [7500, 8000, 8500, 9000], "format": "d", "title": "Julian date-2450000 [days]", "labelOverlap": false}},
 "y": {"field": "y", "type": "quantitative", "scale": {"domain": [0.48353, 0.49762], "nice": false, "zero": false}, "axis": {"values": [0.485, 0.4875, 0.49, 0.4925, 0.495, 0.4975], "format": ".4f", "title": "Iₜᵢₒ", "labelOverlap": false}}
},
"layer": [
{"data": {"name": "fit8"}, "mark": {"type": "line", "color": "#000", "strokeWidth": 1.8, "strokeDash": [7, 4], "interpolate": "monotone", "clip": true}},
{"data": {"name": "obs8"}, "mark": {"type": "errorbar", "color": "#bf00bf", "thickness": 2}, "encoding": {"yError": {"field": "e"}}},
{"data": {"name": "obs8"}, "mark": {"type": "circle", "color": "#bf00bf", "size": 85, "opacity": 1, "clip": true}}
]
}
]
}
